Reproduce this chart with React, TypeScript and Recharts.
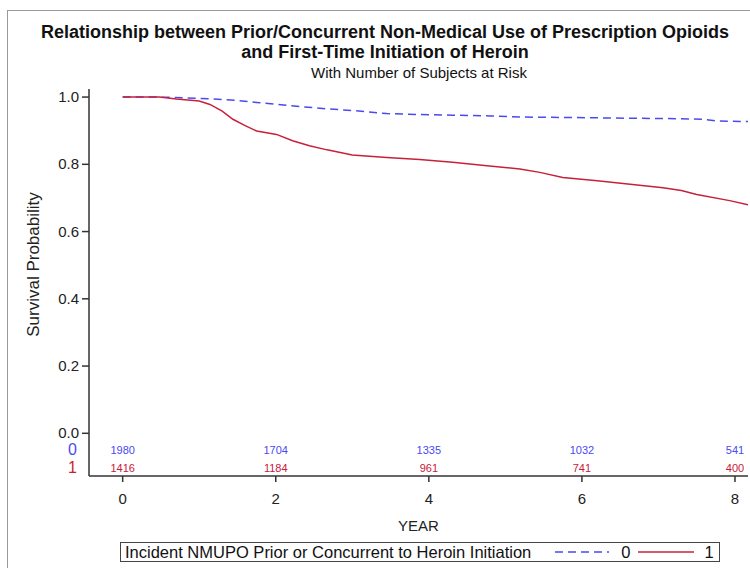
import React from 'react';
import { LineChart, Line, XAxis, YAxis, Scatter, LabelList, Legend } from 'recharts';

// Kaplan-Meier style survival estimates (year, survival)
const noPriorYears = [0, 0.48, 0.8, 1.14, 1.5, 1.79, 2.0, 2.35, 2.67, 3.0, 3.45, 3.9, 4.31, 4.8, 5.19, 5.45, 5.9, 6.3, 6.63, 7.1, 7.58, 7.76, 8.17];
const noPriorSurv = [1.0, 1.0, 0.998, 0.995, 0.99, 0.983, 0.979, 0.971, 0.965, 0.96, 0.951, 0.948, 0.946, 0.944, 0.941, 0.94, 0.939, 0.938, 0.937, 0.936, 0.934, 0.929, 0.927];

const priorYears = [0, 0.48, 0.7, 1.0, 1.14, 1.3, 1.44, 1.6, 1.75, 2.01, 2.22, 2.44, 2.67, 3.0, 3.45, 3.88, 4.31, 4.76, 5.19, 5.45, 5.75, 6.2, 6.63, 7.06, 7.3, 7.5, 7.93, 8.17];
const priorSurv = [1.0, 1.0, 0.994, 0.988, 0.978, 0.958, 0.934, 0.915, 0.899, 0.889, 0.87, 0.855, 0.843, 0.828, 0.82, 0.814, 0.806, 0.796, 0.786, 0.776, 0.761, 0.751, 0.741, 0.73, 0.722, 0.71, 0.692, 0.68];

// number of subjects at risk
const riskYears = [0, 2, 4, 6, 8];
const atRisk0 = [1980, 1704, 1335, 1032, 541];
const atRisk1 = [1416, 1184, 961, 741, 400];

const xTicks = [0, 2, 4, 6, 8];
const yTicks = [0, 0.2, 0.4, 0.6, 0.8, 1.0];

const BLUE = '#4a4af2';
const RED = '#c8203a';
const ROW0_Y = -0.05;
const ROW1_Y = -0.104;

const line0 = noPriorYears.map((t, i) => ({ t, s: noPriorSurv[i] }));
const line1 = priorYears.map((t, i) => ({ t, s: priorSurv[i] }));
const risk0 = riskYears.map((t, i) => ({ t, s: ROW0_Y, n: atRisk0[i] }));
const risk1 = riskYears.map((t, i) => ({ t, s: ROW1_Y, n: atRisk1[i] }));

const FONT = '"Liberation Sans", Arial, sans-serif';

const YTick = (props: any) => {
  const { x, y, payload } = props;
  const v = payload.value;
  if (v === ROW0_Y || v === ROW1_Y) {
    return (
      <text x={x - 2} y={y} dy={5} textAnchor="end" fontSize={16} fontFamily={FONT} fill={v === ROW0_Y ? BLUE : RED}>
        {v === ROW0_Y ? '0' : '1'}
      </text>
    );
  }
  return (
    <g>
      <line x1={x + 3} x2={x + 10} y1={y} y2={y} stroke="#333" strokeWidth={1.5} />
      <text x={x} y={y} dy={5} textAnchor="end" fontSize={15} fontFamily={FONT} fill="#222">
        {v.toFixed(1)}
      </text>
    </g>
  );
};

const YLabel = (props: any) => {
  const { x, y, height } = props.viewBox;
  const cx = x + 23;
  const cy = y + height / 2 - 18;
  return (
    <text x={cx} y={cy} transform={`rotate(-90, ${cx}, ${cy})`} textAnchor="middle" dominantBaseline="central" fontSize={17} fontFamily={FONT} fill="#222">
      Survival Probability
    </text>
  );
};

const LegendBox = () => (
  <div
    style={{
      border: '1.5px solid #444',
      width: 600,
      height: 20,
      display: 'flex',
      alignItems: 'center',
      fontFamily: FONT,
      fontSize: 16.5,
      color: '#111',
      boxSizing: 'border-box',
      padding: '0 4px',
      whiteSpace: 'nowrap',
    }}
  >
    <span>Incident NMUPO Prior or Concurrent to Heroin Initiation</span>
    <svg width={54} height={10} style={{ marginLeft: 24 }}>
      <line x1={0} x2={54} y1={5} y2={5} stroke={BLUE} strokeWidth={1.5} strokeDasharray="8 5" />
    </svg>
    <span style={{ marginLeft: 12 }}>0</span>
    <svg width={56} height={10} style={{ marginLeft: 8 }}>
      <line x1={0} x2={56} y1={5} y2={5} stroke={RED} strokeWidth={1.5} />
    </svg>
    <span style={{ marginLeft: 10 }}>1</span>
  </div>
);

export default function App() {
  return (
    <div style={{ position: 'absolute', left: 0, top: 0, width: 750, height: 568, background: '#fff', overflow: 'hidden' }}>
      <div style={{ position: 'absolute', left: 7, top: 10, width: 760, height: 580, borderLeft: '1px solid #999', borderTop: '1px solid #999' }} />
      <div style={{ position: 'absolute', left: 0, top: 22, width: 770, textAlign: 'center', fontFamily: FONT, fontWeight: 'bold', fontSize: 18, lineHeight: '20px', color: '#111' }}>
        Relationship between Prior/Concurrent Non-Medical Use of Prescription Opioids
        <br />
        and First-Time Initiation of Heroin
      </div>
      <div style={{ position: 'absolute', left: 0, top: 64, width: 838, textAlign: 'center', fontFamily: FONT, fontSize: 15, color: '#111' }}>
        With Number of Subjects at Risk
      </div>
      <div style={{ position: 'absolute', left: 0, top: 0 }}>
        <LineChart width={750} height={568} margin={{ top: 89, right: 2, left: 10, bottom: 12 }}>
          <XAxis
            dataKey="t"
            type="number"
            domain={[-0.44, 8.17]}
            ticks={xTicks}
            allowDataOverflow
            height={60}
            stroke="#333"
            strokeWidth={1.5}
            tickSize={6}
            tickMargin={11}
            tick={{ fontSize: 15, fill: '#222', fontFamily: FONT }}
            label={{ value: 'YEAR', position: 'insideBottom', offset: 5, fontSize: 15, fill: '#222', fontFamily: FONT }}
          />
          <XAxis xAxisId="top" orientation="top" dataKey="t" type="number" domain={[-0.44, 8.17]} height={0} tick={false} tickLine={false} stroke="#666" strokeWidth={1.5} />
          <YAxis
            dataKey="s"
            type="number"
            domain={[-0.127, 1.024]}
            ticks={[ROW1_Y, ROW0_Y, ...yTicks]}
            interval={0}
            allowDataOverflow
            width={79}
            stroke="#333"
            strokeWidth={1.5}
            tickSize={7}
            tickMargin={3}
            tickLine={false}
            tick={<YTick />}
            label={<YLabel />}
          />
          <YAxis yAxisId="right" orientation="right" type="number" domain={[-0.127, 1.024]} width={0} tick={false} tickLine={false} stroke="#666" strokeWidth={1.5} />
          <Line data={line0} dataKey="s" type="linear" stroke={BLUE} strokeWidth={1.5} strokeDasharray="8 5" dot={false} isAnimationActive={false} />
          <Line data={line1} dataKey="s" type="linear" stroke={RED} strokeWidth={1.5} dot={false} isAnimationActive={false} />
          <Scatter data={risk0} dataKey="s" shape={() => <g />} isAnimationActive={false}>
            <LabelList dataKey="n" position="center" fontSize={11} fill={BLUE} fontFamily={FONT} />
          </Scatter>
          <Scatter data={risk1} dataKey="s" shape={() => <g />} isAnimationActive={false}>
            <LabelList dataKey="n" position="center" fontSize={11} fill={RED} fontFamily={FONT} />
          </Scatter>
          <Legend content={<LegendBox />} wrapperStyle={{ left: 120, bottom: 6, width: 600 }} />
        </LineChart>
      </div>
    </div>
  );
}
